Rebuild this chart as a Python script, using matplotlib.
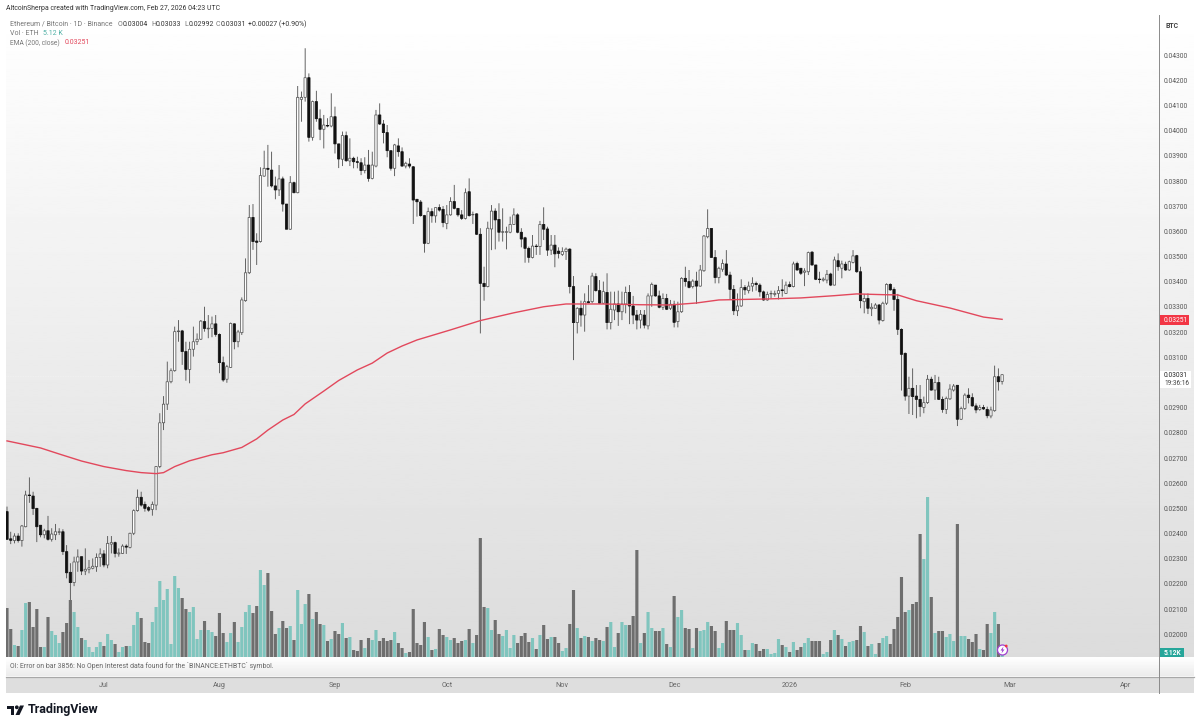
import matplotlib
matplotlib.use("Agg")
import matplotlib.pyplot as plt
import numpy as np
import pandas as pd
from matplotlib.patches import Circle, Polygon, Rectangle

# daily ETH/BTC candles, prices in 1e-5 BTC
opens = [
    2487, 2379, 2372, 2390, 2372, 2427, 2553, 2549, 2500, 2433,
    2395, 2411, 2377, 2395, 2405, 2407, 2328, 2246, 2205, 2287,
    2308, 2251, 2258, 2262, 2268, 2305, 2319, 2275, 2358, 2364,
    2319, 2321, 2350, 2345, 2401, 2491, 2544, 2516, 2503, 2496,
    2513, 2666, 2840, 2914, 3003, 3047, 3202, 3205, 3123, 3052,
    3132, 3162, 3172, 3242, 3213, 3215, 3233, 3191, 3079, 3013,
    3060, 3233, 3162, 3198, 3325, 3436, 3656, 3562, 3560, 3820,
    3851, 3844, 3781, 3765, 3809, 3709, 3609, 3794, 3754, 4125,
    4133, 4211, 3974, 4116, 4048, 4006, 4021, 4019, 4056, 3948,
    3887, 3981, 3880, 3891, 3877, 3873, 3842, 3864, 3811, 3860,
    4063, 4027, 3993, 3921, 3851, 3940, 3917, 3860, 3868, 3857,
    3728, 3717, 3663, 3553, 3679, 3662, 3695, 3688, 3632, 3666,
    3719, 3692, 3666, 3652, 3758, 3666, 3670, 3589, 3394, 3381,
    3610, 3681, 3648, 3597, 3597, 3597, 3628, 3666, 3597, 3575,
    3533, 3497, 3542, 3540, 3628, 3610, 3526, 3546, 3522, 3509,
    3520, 3530, 3381, 3238, 3295, 3268, 3321, 3321, 3421, 3365,
    3315, 3358, 3238, 3288, 3312, 3281, 3312, 3358, 3304, 3268,
    3248, 3268, 3225, 3344, 3387, 3344, 3299, 3334, 3295, 3311,
    3242, 3281, 3414, 3401, 3381, 3403, 3383, 3444, 3579, 3612,
    3497, 3417, 3450, 3471, 3427, 3370, 3285, 3304, 3378, 3365,
    3383, 3394, 3387, 3360, 3328, 3352, 3350, 3354, 3368, 3354,
    3389, 3381, 3473, 3454, 3438, 3440, 3518, 3467, 3411, 3407,
    3407, 3431, 3387, 3484, 3454, 3470, 3447, 3477, 3504, 3440,
    3321, 3334, 3293, 3295, 3308, 3246, 3315, 3390, 3370, 3330,
    3211, 3116, 2946, 2977, 2946, 2933, 2901, 2920, 3013, 2970,
    3000, 2933, 2893, 2935, 2970, 2989, 2854, 2897, 2950, 2940,
    2907, 2893, 2901, 2893, 2867, 2888, 3023, 3004,
]
highs = [
    2507, 2407, 2401, 2401, 2434, 2570, 2623, 2566, 2502, 2433,
    2419, 2470, 2421, 2438, 2421, 2417, 2354, 2282, 2308, 2337,
    2308, 2341, 2295, 2301, 2321, 2341, 2334, 2390, 2390, 2368,
    2341, 2357, 2357, 2403, 2496, 2575, 2566, 2527, 2509, 2527,
    2668, 2878, 2946, 3083, 3056, 3222, 3248, 3209, 3162, 3162,
    3222, 3195, 3248, 3301, 3268, 3262, 3268, 3195, 3103, 3070,
    3238, 3235, 3209, 3338, 3493, 3705, 3709, 3593, 3855, 3921,
    3944, 3917, 3818, 3864, 3818, 3709, 3820, 3798, 4178, 4156,
    4328, 4228, 4120, 4159, 4085, 4063, 4050, 4149, 4096, 3948,
    3997, 3997, 3970, 3897, 3897, 3891, 3895, 3924, 3917, 4083,
    4109, 4043, 4023, 3921, 3948, 3970, 3934, 3877, 3891, 3860,
    3728, 3725, 3666, 3695, 3692, 3695, 3708, 3701, 3705, 3736,
    3785, 3692, 3685, 3771, 3811, 3679, 3672, 3613, 3460, 3639,
    3705, 3692, 3712, 3692, 3619, 3659, 3692, 3672, 3613, 3579,
    3540, 3586, 3550, 3642, 3696, 3619, 3586, 3586, 3537, 3537,
    3536, 3533, 3423, 3299, 3325, 3354, 3387, 3436, 3434, 3407,
    3401, 3434, 3361, 3361, 3365, 3361, 3381, 3387, 3344, 3288,
    3288, 3288, 3354, 3397, 3387, 3365, 3354, 3352, 3328, 3325,
    3321, 3418, 3460, 3447, 3410, 3440, 3467, 3586, 3688, 3612,
    3526, 3460, 3489, 3526, 3440, 3387, 3354, 3410, 3387, 3401,
    3418, 3401, 3394, 3365, 3361, 3365, 3365, 3383, 3410, 3401,
    3401, 3480, 3480, 3454, 3454, 3520, 3522, 3467, 3440, 3418,
    3447, 3436, 3500, 3513, 3484, 3480, 3484, 3526, 3507, 3460,
    3352, 3354, 3315, 3315, 3312, 3321, 3394, 3394, 3378, 3352,
    3215, 3119, 3023, 3056, 2990, 2990, 2944, 3030, 3023, 3030,
    3023, 2944, 2944, 2993, 2994, 2990, 2904, 2957, 2977, 2957,
    2917, 2911, 2911, 2904, 2904, 3067, 3056, 3033,
]
lows = [
    2375, 2358, 2361, 2364, 2348, 2425, 2522, 2474, 2366, 2385,
    2381, 2372, 2368, 2374, 2394, 2315, 2222, 2136, 2191, 2248,
    2235, 2235, 2242, 2258, 2248, 2268, 2266, 2262, 2321, 2305,
    2308, 2319, 2319, 2341, 2394, 2487, 2507, 2487, 2487, 2471,
    2493, 2660, 2811, 2891, 2997, 3043, 3162, 3070, 3007, 2997,
    3103, 3149, 3169, 3202, 3176, 3180, 3182, 3037, 3003, 2999,
    3058, 3132, 3140, 3189, 3321, 3431, 3527, 3467, 3556, 3818,
    3778, 3775, 3728, 3741, 3679, 3609, 3606, 3752, 3752, 4036,
    4116, 3957, 3961, 4036, 3963, 3930, 4014, 4014, 3910, 3852,
    3860, 3877, 3860, 3851, 3851, 3824, 3831, 3798, 3807, 3855,
    4023, 3950, 3895, 3842, 3820, 3897, 3857, 3851, 3851, 3630,
    3659, 3659, 3516, 3550, 3635, 3635, 3679, 3617, 3609, 3663,
    3688, 3659, 3646, 3648, 3659, 3630, 3586, 3195, 3325, 3378,
    3526, 3529, 3560, 3560, 3529, 3593, 3626, 3593, 3537, 3476,
    3476, 3493, 3507, 3507, 3566, 3503, 3507, 3458, 3493, 3503,
    3487, 3354, 3089, 3195, 3222, 3202, 3315, 3315, 3361, 3312,
    3312, 3211, 3211, 3248, 3225, 3248, 3275, 3232, 3232, 3211,
    3215, 3215, 3211, 3301, 3341, 3295, 3288, 3288, 3288, 3219,
    3219, 3277, 3381, 3374, 3374, 3312, 3381, 3440, 3573, 3497,
    3394, 3394, 3440, 3423, 3328, 3268, 3264, 3301, 3348, 3354,
    3361, 3365, 3341, 3325, 3325, 3334, 3341, 3330, 3341, 3352,
    3378, 3378, 3444, 3427, 3383, 3427, 3464, 3407, 3394, 3401,
    3394, 3383, 3386, 3444, 3414, 3444, 3444, 3473, 3436, 3295,
    3275, 3272, 3264, 3293, 3231, 3242, 3308, 3365, 3285, 3189,
    2968, 2928, 2875, 2871, 2858, 2864, 2878, 2915, 2968, 2931,
    2931, 2880, 2875, 2931, 2964, 2827, 2851, 2891, 2917, 2904,
    2878, 2888, 2891, 2858, 2858, 2884, 2968, 2992,
]
closes = [
    2377, 2373, 2390, 2372, 2430, 2553, 2551, 2499, 2427, 2395,
    2411, 2377, 2398, 2407, 2407, 2328, 2244, 2205, 2287, 2307,
    2251, 2258, 2264, 2270, 2305, 2319, 2275, 2361, 2364, 2321,
    2323, 2350, 2346, 2401, 2491, 2544, 2513, 2500, 2493, 2516,
    2666, 2840, 2914, 3003, 3047, 3202, 3205, 3123, 3052, 3132,
    3162, 3172, 3244, 3215, 3216, 3233, 3191, 3079, 3010, 3063,
    3235, 3162, 3201, 3328, 3436, 3656, 3560, 3557, 3822, 3851,
    3847, 3781, 3765, 3809, 3709, 3609, 3794, 3754, 4133, 4133,
    4211, 3974, 4116, 4048, 4006, 4023, 4019, 4056, 3948, 3888,
    3981, 3881, 3891, 3877, 3875, 3842, 3864, 3811, 3864, 4063,
    4027, 3993, 3921, 3851, 3944, 3917, 3860, 3871, 3860, 3725,
    3718, 3663, 3553, 3679, 3662, 3695, 3685, 3635, 3666, 3719,
    3692, 3666, 3652, 3754, 3663, 3668, 3589, 3394, 3381, 3613,
    3681, 3646, 3597, 3599, 3599, 3628, 3666, 3597, 3570, 3533,
    3497, 3542, 3540, 3628, 3609, 3526, 3546, 3511, 3513, 3520,
    3530, 3381, 3238, 3295, 3268, 3321, 3317, 3423, 3365, 3315,
    3361, 3238, 3291, 3312, 3281, 3312, 3358, 3304, 3268, 3248,
    3271, 3228, 3344, 3390, 3344, 3299, 3334, 3291, 3311, 3239,
    3281, 3414, 3401, 3378, 3403, 3383, 3447, 3582, 3612, 3497,
    3417, 3454, 3473, 3427, 3370, 3285, 3304, 3377, 3368, 3383,
    3394, 3389, 3360, 3328, 3350, 3354, 3354, 3365, 3365, 3387,
    3381, 3471, 3447, 3434, 3443, 3516, 3467, 3410, 3409, 3411,
    3430, 3387, 3487, 3460, 3471, 3447, 3480, 3503, 3440, 3325,
    3334, 3295, 3299, 3308, 3248, 3315, 3390, 3368, 3330, 3211,
    3112, 2946, 2977, 2944, 2933, 2904, 2920, 3013, 2970, 3000,
    2933, 2893, 2937, 2974, 2986, 2854, 2897, 2950, 2940, 2907,
    2891, 2901, 2895, 2868, 2891, 3023, 3003, 3031,
]
# volume in thousand ETH
volumes = [
    49, 28, 12, 11, 27, 54, 55, 30, 48, 10,
    10, 40, 26, 22, 14, 25, 34, 57, 45, 30,
    19, 17, 10, 5, 10, 15, 11, 23, 17, 13,
    5, 10, 11, 11, 32, 45, 39, 15, 14, 35,
    50, 76, 57, 68, 13, 81, 69, 59, 48, 45,
    50, 18, 27, 36, 27, 25, 21, 44, 24, 15,
    24, 35, 15, 30, 45, 52, 44, 51, 87, 72,
    84, 46, 23, 29, 36, 29, 31, 17, 67, 33,
    53, 63, 38, 45, 33, 32, 16, 18, 26, 23,
    34, 19, 20, 7, 6, 17, 9, 19, 17, 27,
    16, 19, 16, 17, 25, 14, 9, 4, 5, 48,
    14, 12, 35, 20, 7, 8, 28, 22, 20, 17,
    19, 14, 16, 17, 28, 14, 22, 119, 50, 49,
    27, 37, 23, 21, 27, 9, 22, 14, 21, 24,
    15, 19, 8, 22, 32, 18, 20, 20, 14, 6,
    9, 33, 67, 29, 19, 21, 20, 16, 19, 17,
    16, 30, 35, 10, 24, 35, 32, 32, 41, 107,
    14, 24, 45, 29, 26, 26, 29, 13, 10, 61,
    40, 47, 29, 28, 9, 29, 26, 27, 35, 31,
    26, 9, 14, 36, 27, 27, 34, 22, 7, 7,
    14, 13, 6, 8, 8, 3, 4, 18, 12, 10,
    5, 15, 7, 10, 14, 19, 16, 16, 16, 3,
    5, 17, 27, 22, 18, 11, 15, 16, 17, 31,
    25, 11, 13, 3, 14, 19, 21, 13, 28, 40,
    80, 45, 47, 53, 55, 123, 98, 160, 60, 24,
    26, 26, 20, 23, 16, 133, 21, 21, 18, 15,
    23, 8, 7, 33, 24, 45, 33, 5,
]
# EMA(200) read at some of the bars
ema_bars = [0, 9, 14, 20, 26, 32, 36, 40, 42, 45, 49, 55, 58, 63, 67, 70, 74, 77, 80, 85, 89,
            94, 98, 102, 106, 110, 119, 127, 136, 144, 150, 160, 170, 178, 185, 191, 204, 213,
            222, 228, 235, 239, 244, 253, 262, 267]
ema_values = [2768, 2740, 2716, 2688, 2666, 2650, 2642, 2638, 2642, 2666, 2689, 2713, 2721,
              2742, 2776, 2811, 2851, 2873, 2915, 2966, 3008, 3050, 3077, 3117, 3145, 3169,
              3209, 3246, 3277, 3301, 3312, 3312, 3309, 3308, 3316, 3328, 3332, 3336, 3345,
              3352, 3349, 3348, 3325, 3296, 3260, 3251]

first_day = "2025-06-05"
month_dates = ["2025-07-01", "2025-08-01", "2025-09-01", "2025-10-01", "2025-11-01",
               "2025-12-01", "2026-01-01", "2026-02-01", "2026-03-01", "2026-04-01"]
month_labels = ["Jul", "Aug", "Sep", "Oct", "Nov", "Dec", "2026", "Feb", "Mar", "Apr"]
price_ticks = [0.02 + k * 0.001 for k in range(24)]

FONT = "Roboto"
W, H = 1200, 727
PANE_L, PANE_R, PANE_T, PANE_B = 6, 1159, 15, 657
BAR_STEP = 3.727
FIRST_BAR_X = 7
TEAL = "#80c5be"
GREY = "#6e6e6e"
RED = "#e2485c"


def pane_rect():
    return [PANE_L / W, 1 - PANE_B / H, (PANE_R - PANE_L) / W, (PANE_B - PANE_T) / H]


o = np.array(opens) / 1e5
h = np.array(highs) / 1e5
l = np.array(lows) / 1e5
c = np.array(closes) / 1e5
vol = np.array(volumes)
bars = np.arange(len(o))
up = c >= o

fig = plt.figure(figsize=(12, 7.27), dpi=100, facecolor="white")

# page furniture in pixel coordinates, behind the chart
bg = fig.add_axes([0, 0, 1, 1], zorder=0)
bg.set_xlim(0, W)
bg.set_ylim(H, 0)
bg.axis("off")
bg.imshow(np.linspace(255, 220, 256).reshape(-1, 1), cmap="gray", vmin=0, vmax=255,
          extent=[PANE_L, 1194, PANE_B, PANE_T], aspect="auto")
bg.imshow(np.linspace(255, 236, 64).reshape(-1, 1), cmap="gray", vmin=0, vmax=255,
          extent=[PANE_L, 1194, 676, PANE_B], aspect="auto")
bg.add_patch(Rectangle((PANE_L, 677), 1194 - PANE_L, 16, fc="#dedede", ec="none"))
bg.set_xlim(0, W)
bg.set_ylim(H, 0)
bg.plot([PANE_L, 1194], [676.5, 676.5], color="#a8a8a8", lw=0.9)
bg.plot([1159, 1159], [PANE_T, 693], color="#8a8a8a", lw=0.7)
bg.plot([PANE_L, 1159], [376, 376], color="#f2f2f2", lw=0.6, ls=(0, (1, 1)))

# volume underlay, one pixel of pane height is about one thousand ETH
x_left = (PANE_L - FIRST_BAR_X) / BAR_STEP
x_right = (PANE_R - FIRST_BAR_X) / BAR_STEP
ax_vol = fig.add_axes(pane_rect(), zorder=1)
ax_vol.patch.set_alpha(0)
ax_vol.set_xlim(x_left, x_right)
ax_vol.set_ylim(0, PANE_B - PANE_T)
ax_vol.axis("off")
vol_bars = ax_vol.bar(bars, vol, width=0.84, color=np.where(up, TEAL, GREY), linewidth=0)
for b in vol_bars:
    b.set_snap(False)

# candles
ax = fig.add_axes(pane_rect(), zorder=2)
ax.patch.set_alpha(0)
ax.set_xlim(x_left, x_right)
ax.set_ylim(4519.7e-5 - PANE_B * 3.973e-5, 4519.7e-5 - PANE_T * 3.973e-5)
wicks = ax.vlines(bars, l, h, color="#4a4a4a", lw=0.6, zorder=2)
wicks.set_snap(False)
bodies = ax.bar(bars, np.abs(c - o), bottom=np.minimum(o, c), width=0.62,
                color=np.where(up, "white", "#111111"), edgecolor=np.where(up, "#555555", "#111111"),
                linewidth=0.55, zorder=3)
for b in bodies:
    b.set_snap(False)
ax.plot(ema_bars, np.array(ema_values) / 1e5, color=RED, lw=1.0, zorder=4)

start = pd.Timestamp(first_day)
ax.set_xticks([(pd.Timestamp(d) - start).days for d in month_dates])
ax.set_xticklabels(month_labels)
ax.yaxis.tick_right()
ax.set_yticks(price_ticks)
ax.set_yticklabels([f"{p:.5f}" for p in price_ticks])
ax.tick_params(axis="x", length=0, pad=18, labelsize=5.2, labelcolor="#666666")
ax.tick_params(axis="y", length=0, pad=3.2, labelsize=4.85, labelcolor="#555555")
for lab in ax.get_xticklabels() + ax.get_yticklabels():
    lab.set_fontfamily(FONT)
for side in ax.spines.values():
    side.set_visible(False)

# labels and badges on top, pixel coordinates again
top = fig.add_axes([0, 0, 1, 1], zorder=3)
top.patch.set_alpha(0)
top.set_xlim(0, W)
top.set_ylim(H, 0)
top.axis("off")


def label(x, y, s, color="#555555", size=5.0, **kw):
    kw.setdefault("va", "center")
    top.text(x, y, s, color=color, fontsize=size, fontfamily=FONT, **kw)


label(6, 8, "AltcoinSherpa created with TradingView.com, Feb 27, 2026 04:23 UTC", color="#333333", size=4.95)
label(10, 24, "Ethereum / Bitcoin · 1D · Binance", color="#777777")
for xp, letter, val in [(118, "O", "0.03004"), (151, "H", "0.03033"), (184, "L", "0.02992"), (216, "C", "0.03031")]:
    label(xp, 24, letter, color="#777777")
    label(xp + 4.5, 24, val, color="#333333")
label(248, 24, "+0.00027 (+0.90%)", color="#333333")
label(10, 33.5, "Vol · ETH", color="#777777")
label(43, 33.5, "5.12 K", color="#4fb0a5")
label(10, 43, "EMA (200, close)", color="#777777", size=4.8)
label(65, 43, "0.03251", color=RED)
label(10, 666, "OI: Error on bar 3856: No Open Interest data found for the `BINANCE:ETHBTC` symbol.", color="#666666", size=4.95)

top.add_patch(Rectangle((1162, 18), 30, 14, fc="white", ec="none"))
label(1166, 25.5, "BTC", color="#444444", weight="bold")
top.add_patch(Rectangle((1159.5, 315), 29, 10, fc="#f23645", ec="none"))
label(1164, 320.3, "0.03251", color="white", size=4.85)
top.add_patch(Rectangle((1160, 371), 31, 17, fc="white", ec="none"))
label(1164, 375.2, "0.03031", color="#222222", size=4.7)
label(1164, 383.6, "19:36:16", color="#444444", size=4.7)
top.add_patch(Rectangle((1159.5, 648), 24, 9, fc="#26a69a", ec="none"))
label(1164, 652.7, "5.12K", color="white", weight="bold", size=4.85)

# lightning badge
top.add_patch(Circle((1002.5, 650), 5, fc="white", ec="#a040d0", lw=0.9))
top.add_patch(Polygon([(1003.5, 646.5), (1000.5, 650.5), (1002.3, 650.5), (1001.5, 653.5), (1004.5, 649.5), (1002.7, 649.5)],
                      fc="#a040d0", ec="none"))
top.add_patch(Circle((1006.2, 646), 1.4, fc="#f23645", ec="none"))

# logo
top.add_patch(Polygon([(7, 705.5), (14, 705.5), (14, 715), (10.5, 715), (10.5, 709), (7, 709)], fc="#131722", ec="none"))
top.add_patch(Circle((16.8, 707.3), 1.9, fc="#131722", ec="none"))
top.add_patch(Polygon([(20, 705.5), (24, 705.5), (19.5, 715), (15.5, 715)], fc="#131722", ec="none"))
label(28, 710, "TradingView", color="#131722", size=9, weight="bold")

fig.savefig("out.png", dpi=100)
